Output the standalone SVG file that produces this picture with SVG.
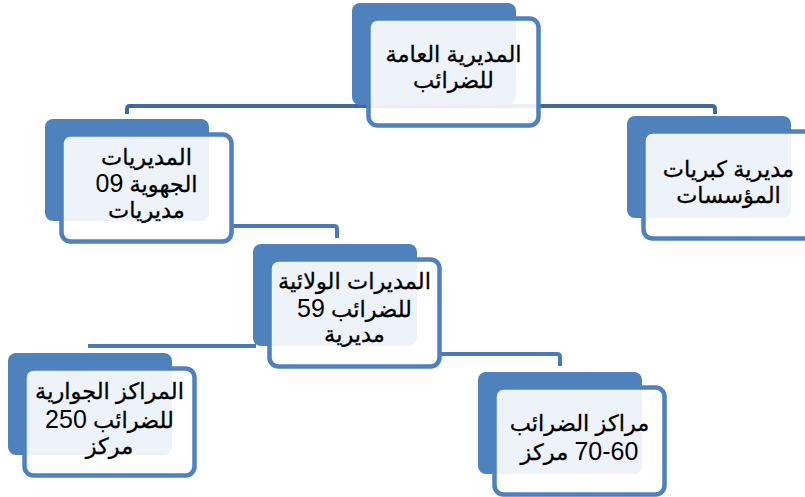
<svg xmlns="http://www.w3.org/2000/svg" width="805" height="497" viewBox="0 0 805 497">
<style>
.back{fill:#4F81BD}
.front{fill:#FFFFFF;fill-opacity:0.9;stroke:#4F81BD;stroke-width:4.5}
.conn{fill:none;stroke:#4A7BB7;stroke-width:4;stroke-linejoin:round}
.conn-top{stroke:#41699C}
.t{font-family:"Liberation Sans","DejaVu Sans",sans-serif;font-size:22.5px;fill:#000;stroke:#000;stroke-width:0.3px;text-anchor:middle;direction:rtl}
.n{font-size:25px;stroke-width:0}
</style>
<defs>
<g id="shape">
<rect class="back" x="0" y="0" width="164" height="102" rx="8"/>
<rect class="front" x="16.5" y="15.5" width="170" height="107" rx="9"/>
</g>
</defs>
<g id="connectors">
<path class="conn conn-top" d="M127,114 V109 Q127,106 130,106 H712 Q715,106 715,109 V114"/>
<path class="conn" d="M232,226 H334 Q337,226 337,229 V238"/>
<path class="conn" d="M88,346 H256"/>
<path class="conn" d="M440,354 H557 Q560,354 560,357 V366"/>
</g>
<g id="node-general">
<use href="#shape" x="352" y="3"/>
<text class="t" x="453.5" y="62">المديرية العامة</text>
<text class="t" x="453.5" y="88">للضرائب</text>
</g>
<g id="node-regional">
<use href="#shape" x="45" y="119"/>
<text class="t" x="146.5" y="165">المديريات</text>
<text class="t" x="146.5" y="192">الجهوية <tspan class="n">09</tspan></text>
<text class="t" x="146.5" y="218">مديريات</text>
</g>
<g id="node-large">
<use href="#shape" x="627" y="116"/>
<text class="t" x="728.5" y="177">مديرية كبريات</text>
<text class="t" x="728.5" y="203">المؤسسات</text>
</g>
<g id="node-wilaya">
<use href="#shape" x="253" y="244"/>
<text class="t" x="354.5" y="289">المديرات الولائية</text>
<text class="t" x="354.5" y="317">للضرائب <tspan class="n">59</tspan></text>
<text class="t" x="354.5" y="342">مديرية</text>
</g>
<g id="node-proximity">
<use href="#shape" x="8" y="353"/>
<text class="t" x="109.5" y="399">المراكز الجوارية</text>
<text class="t" x="109.5" y="428">للضرائب <tspan class="n">250</tspan></text>
<text class="t" x="109.5" y="454">مركز</text>
</g>
<g id="node-centers">
<use href="#shape" x="478" y="372"/>
<text class="t" x="579.5" y="431">مراكز الضرائب</text>
<text class="t" x="579.5" y="460"><tspan class="n">70-60</tspan> مركز</text>
</g>
</svg>
